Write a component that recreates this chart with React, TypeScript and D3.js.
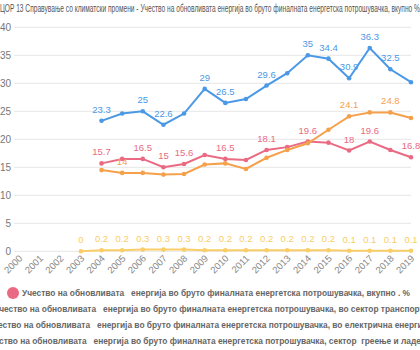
import React, { useLayoutEffect, useRef, useState } from "react";
import * as d3 from "d3";

const years = ["2000","2001","2002","2003","2004","2005","2006","2007","2008","2009","2010","2011","2012","2013","2014","2015","2016","2017","2018","2019"];
const totalVals: (number|null)[] = [null,null,null,null,15.7,16.5,16.5,15,15.6,17.2,16.5,16.3,18.1,18.6,19.6,19.4,18,19.6,18.1,16.8];
const transportVals: (number|null)[] = [null,null,null,0,0.2,0.2,0.3,0.3,0.3,0.2,0.2,0.2,0.2,0.2,0.2,0.2,0.1,0.1,0.1,0.1];
const electricVals: (number|null)[] = [null,null,null,null,23.3,24.6,25,22.6,24.6,29,26.5,27.2,29.6,31.8,35,34.4,30.9,36.3,32.5,30.2];
const heatVals: (number|null)[] = [null,null,null,null,14.5,14,14,13.7,13.8,15.5,15.7,14.7,16.7,18.1,19.3,21.7,24.1,24.8,24.8,23.8];
const yTicks = [0,5,10,15,20,25,30,35,40];

// which labels are shown (others hidden by overlap in original)
const totalShown = ["2004","2006","2007","2008","2010","2012","2014","2016","2017","2019"];
const electricShown = ["2004","2006","2007","2009","2010","2012","2014","2015","2016","2017","2018"];
const heatShown = ["2005","2016","2018"];
const transportShown = years.slice(3);

const title = "ЦОР 13 Справување со климатски промени - Учество на обновливата енергија во бруто финалната енергетска потрошувачка, вкупно %";
const legendNames = [
  "Учество на обновливата   енергија во бруто финалната енергетска потрошувачка, вкупно . %",
  "Учество на обновливата   енергија во бруто финалната енергетска потрошувачка, во сектор транспорт . %",
  "Учество на обновливата   енергија во бруто финалната енергетска потрошувачка, во електрична енергија . %",
  "Учество на обновливата   енергија во бруто финалната енергетска потрошувачка, сектор  греење и ладење . %",
];

const colors = ["#ea6a83", "#f9cd67", "#4b98e6", "#f5a04a"];

export default function App() {
  const W = 420, H = 350;
  const x = d3.scalePoint<string>().domain(years).range([19, 411]);
  const y = d3.scaleLinear().domain([0, 40]).range([251.3, 27.3]);
  const series = [
    { vals: totalVals, shown: totalShown, color: colors[0] },
    { vals: heatVals, shown: heatShown, color: colors[3] },
    { vals: transportVals, shown: transportShown, color: colors[1] },
    { vals: electricVals, shown: electricShown, color: colors[2] },
  ];
  const line = d3.line<[string, number|null]>()
    .defined(d => d[1] != null)
    .x(d => x(d[0])!)
    .y(d => y(d[1] as number));

  const refs = useRef<(SVGTextElement|null)[]>([]);
  const [widths, setWidths] = useState<number[]>([]);
  useLayoutEffect(() => {
    setWidths(refs.current.map(t => (t ? t.getComputedTextLength() : 0)));
  }, []);
  const ratio = widths[0] ? 388 / widths[0] : 1;

  const font = "Liberation Sans, Arial, sans-serif";
  return (
    <svg width={W} height={H} style={{ display: "block", position: "absolute", left: 0, top: 0 }} fontFamily={font}>
      <text x={0} y={12} fontSize={11} fill="#555" textLength={420} lengthAdjust="spacingAndGlyphs">{title}</text>
      {yTicks.map(t => (
        <g key={t}>
          <line x1={14} x2={411} y1={y(t)} y2={y(t)} stroke="#e6e6e6" strokeWidth={1} />
          <text x={11} y={y(t)} dy="0.35em" textAnchor="end" fontSize={10} fill="#777">{t}</text>
        </g>
      ))}
      {years.map(yr => (
        <text key={yr} transform={`translate(${x(yr)! + 4},${259}) rotate(-45)`} textAnchor="end" fontSize={9.5} fill="#888">{yr}</text>
      ))}
      {series.map((s, i) => {
        const pts = years.map((yr, j) => [yr, s.vals[j]] as [string, number|null]);
        return (
          <g key={i}>
            <path d={line(pts) || ""} fill="none" stroke={s.color} strokeWidth={2} />
            {pts.filter(p => p[1] != null).map(p => (
              <circle key={p[0]} cx={x(p[0])} cy={y(p[1] as number)} r={2.3} fill={s.color} />
            ))}
          </g>
        );
      })}
      {series.map((s, i) => (
        <g key={"l" + i}>
          {years.map((yr, j) => s.vals[j] != null && s.shown.includes(yr) ? (
            <text key={yr} x={x(yr)} y={y(s.vals[j] as number) - 8} textAnchor="middle" fontSize={9.5} fill={s.color}>{s.vals[j]}</text>
          ) : null)}
        </g>
      ))}
      {legendNames.map((n, i) => {
        const w = (widths[i] || 0) * ratio;
        const total = w + 15;
        const start = 208.5 - total / 2;
        const cy = 293 + i * 16;
        return (
          <g key={n}>
            <circle cx={start + 6} cy={cy} r={6} fill={colors[i]} />
            <text ref={el => { refs.current[i] = el; }} x={start + 15} y={cy} dy="0.35em" fontSize={9.5} fontWeight="bold" fill="#666"
              style={{ whiteSpace: "pre" }}
              {...(widths[i] ? { textLength: w, lengthAdjust: "spacingAndGlyphs" } : {})}>{n}</text>
          </g>
        );
      })}
    </svg>
  );
}
